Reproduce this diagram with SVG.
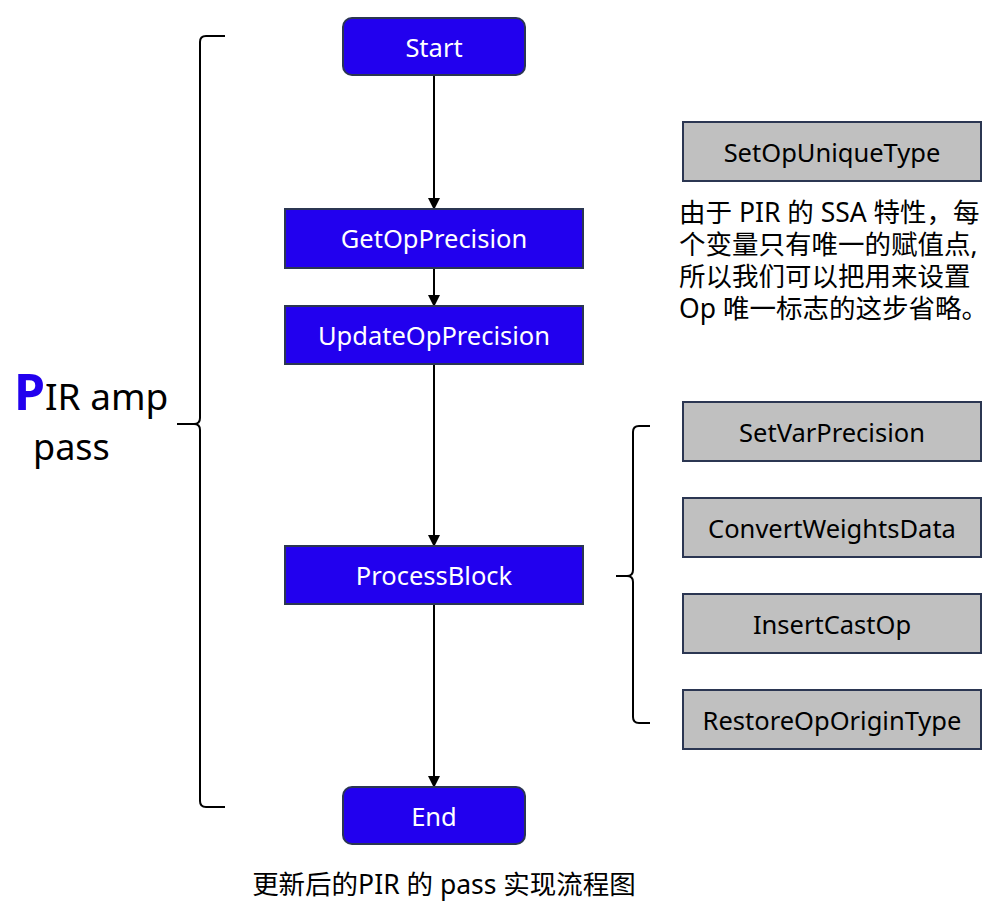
<svg xmlns="http://www.w3.org/2000/svg" width="1008" height="916" viewBox="0 0 1008 916">
<style>
.blue{fill:#2200ee;stroke:#2b3652;stroke-width:2}
.gray{fill:#c0c0c0;stroke:#2b3652;stroke-width:2}
.wt{fill:#fff;font-family:"Noto Sans","Liberation Sans",sans-serif;font-size:25.5px;text-anchor:middle}
.bt{fill:#000;font-family:"Noto Sans","Liberation Sans",sans-serif;font-size:25.5px;text-anchor:middle}
.cn{fill:#000;font-family:"Noto Sans","Noto Sans CJK SC",sans-serif;font-size:26.5px}
.conn{stroke:#000;stroke-width:2;fill:none}
.brace{stroke:#000;stroke-width:2;fill:none}
</style>
<defs>
<marker id="ah" markerWidth="12" markerHeight="12" refX="10" refY="6" orient="auto" markerUnits="userSpaceOnUse">
<path d="M0,0 L12,6 L0,12 Z" fill="#000"/>
</marker>
</defs>
<rect width="1008" height="916" fill="#fff"/>
<g id="connectors">
<line class="conn" x1="434" y1="75" x2="434" y2="208" marker-end="url(#ah)"/>
<line class="conn" x1="434" y1="268" x2="434" y2="305" marker-end="url(#ah)"/>
<line class="conn" x1="434" y1="364" x2="434" y2="545" marker-end="url(#ah)"/>
<line class="conn" x1="434" y1="604" x2="434" y2="786" marker-end="url(#ah)"/>
</g>
<g id="start"><rect class="blue" x="343" y="18" width="182" height="57" rx="9"/><text class="wt" x="434" y="57">Start</text></g>
<g id="getop"><rect class="blue" x="285" y="209" width="298" height="59"/><text class="wt" x="434" y="248">GetOpPrecision</text></g>
<g id="updateop"><rect class="blue" x="285" y="306" width="298" height="58"/><text class="wt" x="434" y="345">UpdateOpPrecision</text></g>
<g id="process"><rect class="blue" x="285" y="546" width="298" height="58"/><text class="wt" x="434" y="585">ProcessBlock</text></g>
<g id="end"><rect class="blue" x="343" y="787" width="182" height="57" rx="9"/><text class="wt" x="434" y="826">End</text></g>
<g id="setopunique"><rect class="gray" x="683" y="122" width="298" height="59"/><text class="bt" x="832" y="162">SetOpUniqueType</text></g>
<g id="note"><text class="cn" x="679" y="222"><tspan x="679" y="222">由于 PIR 的 SSA 特性，每</tspan><tspan x="679" y="254">个变量只有唯一的赋值点,</tspan><tspan x="679" y="286">所以我们可以把用来设置</tspan><tspan x="679" y="318">Op 唯一标志的这步省略。</tspan></text></g>
<g id="setvar"><rect class="gray" x="683" y="402" width="298" height="59"/><text class="bt" x="832" y="442">SetVarPrecision</text></g>
<g id="convert"><rect class="gray" x="683" y="498" width="298" height="59"/><text class="bt" x="832" y="538">ConvertWeightsData</text></g>
<g id="insertcast"><rect class="gray" x="683" y="594" width="298" height="59"/><text class="bt" x="832" y="634">InsertCastOp</text></g>
<g id="restore"><rect class="gray" x="683" y="690" width="298" height="59"/><text class="bt" x="832" y="730">RestoreOpOriginType</text></g>
<g id="leftbrace">
<path class="brace" d="M225,36 L206,36 Q200,36 200,42 L200,418 Q200,424 194,424 L177,424 M194,424 Q200,424 200,430 L200,801 Q200,807 206,807 L225,807"/>
<text x="14" y="410" font-family="Noto Sans,Liberation Sans,sans-serif"><tspan font-size="50" fill="#2200ee" font-weight="bold">P</tspan><tspan font-size="37" fill="#000">IR amp</tspan></text>
<text x="33" y="460" font-family="Noto Sans,Liberation Sans,sans-serif" font-size="36" fill="#000">pass</text>
</g>
<g id="rightbrace">
<path class="brace" d="M650,426 L639,426 Q633,426 633,432 L633,570 Q633,576 627,576 L616,576 M627,576 Q633,576 633,582 L633,717 Q633,723 639,723 L650,723"/>
</g>
<g id="caption"><text class="cn" x="444" y="894" text-anchor="middle" style="font-size:26.5px">更新后的PIR 的 pass 实现流程图</text></g>
</svg>
